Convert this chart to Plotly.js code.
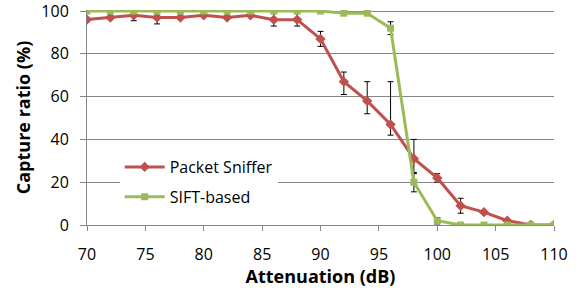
<!DOCTYPE html>
<html><head><meta charset="utf-8">
<script src="https://cdn.plot.ly/plotly-3.0.1.min.js"></script>
<style>html,body{margin:0;padding:0;background:#fff;}#chart{width:580px;height:288px;}</style>
</head><body><div id="chart"></div>
<script>
const attenuation = [70,72,74,76,78,80,82,84,86,88,90,92,94,96,98,100,102,104,106,108,110];
const snifferValues = [96,97,98,97,97,98,97,98,96,96,87,67,58,47,31,22,9,6,2,0,0];
const snifferErrPlus = [0,0,2.5,3,0,0,0,0,3,3,3.5,4.5,9,20,9,2,3.5,0,0,0,0];
const snifferErrMinus = [0,0,2.5,3,0,0,0,0,3,3,3.5,6,6,5,7,2,3.5,0,0,0,0];
const siftValues = [100,100,100,100,100,100,100,100,100,100,100,99,99,92,20,2,0,0,0,0,0];
const siftErrPlus = [0,0,0,0,0,0,0,0,0,0,0,0,0,3,4.5,1.5,0,0,0,0,0];
const siftErrMinus = [0,0,0,0,0,0,0,0,0,0,0,0,0,3,4.5,1.5,0,0,0,0,0];
const xTicks = [70,75,80,85,90,95,100,105,110];
const yTicks = [0,20,40,60,80,100];

const font = "'Open Sans', sans-serif";
const traces = [
  {x: attenuation, y: snifferValues, name: 'Packet Sniffer', legendgroup: 'a', type: 'scatter', mode: 'lines+markers',
   line: {color: '#C0504D', width: 3}, marker: {symbol: 'diamond', size: 8, color: '#C0504D'},
   error_y: {type: 'data', symmetric: false, array: snifferErrPlus, arrayminus: snifferErrMinus, color: '#000', thickness: 1, width: 3}},
  {x: attenuation, y: siftValues, name: 'SIFT-based', legendgroup: 'b', type: 'scatter', mode: 'lines+markers',
   line: {color: '#9BBB59', width: 3}, marker: {symbol: 'square', size: 7, color: '#9BBB59'},
   error_y: {type: 'data', symmetric: false, array: siftErrPlus, arrayminus: siftErrMinus, color: '#000', thickness: 1, width: 3}}
];
const layout = {
  width: 580, height: 288,
  margin: {l: 87, r: 26, t: 10, b: 63},
  paper_bgcolor: '#fff', plot_bgcolor: '#fff',
  font: {family: font, size: 16, color: '#000'},
  showlegend: true,
  legend: {x: 0.07, y: 0.2, xanchor: 'left', yanchor: 'middle', bgcolor: '#fff', traceorder: 'grouped',
           font: {family: font, size: 16, color: '#000'}, tracegroupgap: 6, itemwidth: 40},
  xaxis: {range: [70, 110], tickvals: xTicks, ticktext: xTicks.map(String), showgrid: false, zeroline: false,
          showline: true, linecolor: '#868686', linewidth: 1, ticks: 'outside', ticklen: 5, tickcolor: '#868686',
          ticklabelstandoff: 10, ticklabeloverflow: 'allow',
          title: {text: '<b>Attenuation (dB)</b>', font: {family: font, size: 18}, standoff: 1},
          tickfont: {family: font, size: 16}},
  yaxis: {range: [0, 100.5], tickvals: yTicks, ticktext: yTicks.map(String), showgrid: true, gridcolor: '#868686', gridwidth: 1,
          zeroline: false, showline: true, linecolor: '#868686', linewidth: 1, ticks: 'outside', ticklen: 6, tickcolor: '#868686',
          ticklabelstandoff: 8, ticklabeloverflow: 'allow',
          title: {text: '<b>Capture ratio (%)</b>', font: {family: font, size: 18}, standoff: 6},
          tickfont: {family: font, size: 16}},
};
Plotly.newPlot('chart', traces, layout, {displayModeBar: false, staticPlot: true});
</script>
</body></html>
